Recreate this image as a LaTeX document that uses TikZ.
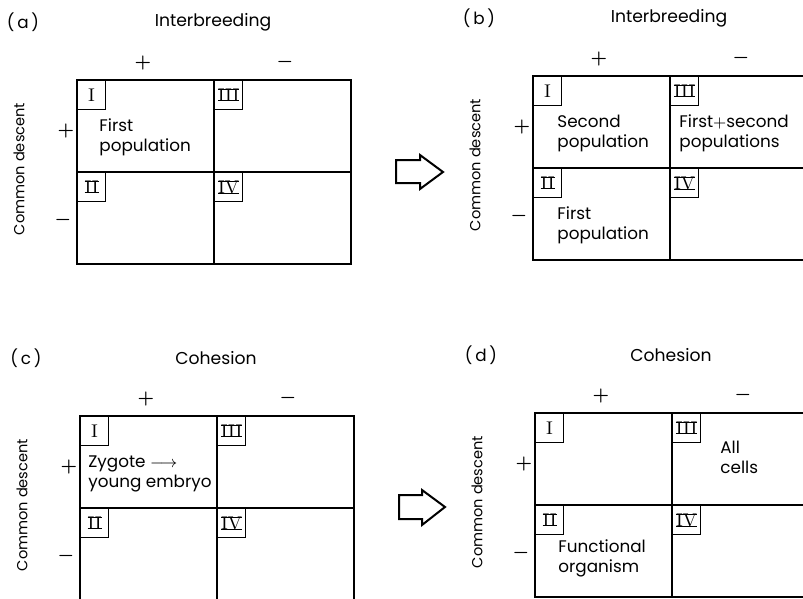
\documentclass[tikz,border=0pt]{standalone}
\usepackage{fontspec}
\setmainfont{Poppins}
\newfontfamily\numfont{Latin Modern Roman}
\usepackage{tikz}
\usetikzlibrary{positioning}

% roman numeral with bars on top and bottom
\newcommand{\barnum}[1]{{\setbox0\hbox{\numfont #1}%
  \vbox{\hrule height .5pt\kern-.5pt\copy0\kern-.5pt\hrule height .5pt}}}

\begin{document}
\begin{tikzpicture}[
  x=0.5pt, y=-0.5pt,
  every node/.style={font=\fontsize{8.4}{10}\selectfont, inner sep=0pt},
  romanbox/.style={draw, line width=0.6pt, minimum width=14pt, minimum height=14.5pt,
                   anchor=north west, font=\numfont\fontsize{9.2}{10}\selectfont},
  headtext/.style={font=\fontsize{8.6}{10}\selectfont},
  axistext/.style={rotate=90, font=\fontsize{7.3}{9}\selectfont},
  signtext/.style={font=\fontsize{9}{10}\selectfont\boldmath},
  celltext/.style={anchor=west, align=left},
  gridline/.style={line width=0.9pt},
  blockarrow/.style={line width=1pt, line join=miter}
]
\useasboundingbox (0,0) rectangle (803,599);

% one 2x2 table with its axis labels
\def\fourfold#1#2#3#4#5{%
  \begin{scope}[shift={(#2,#3)}]
    \draw[gridline] (0,0) rectangle (274,184);
    \draw[gridline] (137,0) -- (137,184);
    \draw[gridline] (0,92) -- (274,92);
    \node[romanbox] (#1-I) at (0,0) {I};
    \node[romanbox] (#1-III) at (137,0) {\barnum{III}};
    \node[romanbox] (#1-II) at (0,92) {\barnum{II}};
    \node[romanbox] (#1-IV) at (137,92) {\barnum{IV}};
    \node (#1-label) at (-54,-58) {(\,#4\,)};
    \node[headtext] (#1-head) at (136,-58) {#5};
    \node[signtext] (#1-plus) at (66,-17) {$+$};
    \node[signtext] (#1-minus) at (208,-18) {$-$};
    \node[signtext] (#1-plusl) at (-11,51) {$+$};
    \node[signtext] (#1-minusl) at (-14,140) {$-$};
    \node[axistext] (#1-axis) at (-58,89) {Common descent};
  \end{scope}
}

% panels
\fourfold{a}{77}{80}{a}{Interbreeding}
\fourfold{b}{533}{76}{b}{Interbreeding}
\fourfold{c}{80}{416}{c}{Cohesion}
\fourfold{d}{535}{413}{d}{Cohesion}

% cell contents
\node[celltext] (a-first) at (99,137) {First\\population};
\node[celltext] (b-second) at (557,133) {Second\\population};
\node[celltext] (b-both) at (679,133) {First$+$second\\populations};
\node[celltext] (b-first) at (557,225) {First\\population};
\node[celltext] (c-zygote) at (88,474) {Zygote $\longrightarrow$\\young embryo};
\node[celltext] (d-cells) at (720,457) {All\\cells};
\node[celltext] (d-organism) at (558,558) {Functional\\organism};

% block arrows
\draw[blockarrow] (396,160) -- (420,160) -- (420,155) -- (443,172) -- (420,189)
  -- (420,183) -- (396,183) -- cycle;
\draw[blockarrow] (399,495) -- (422,495) -- (422,490) -- (445,507) -- (422,525)
  -- (422,519) -- (399,519) -- cycle;
\end{tikzpicture}
\end{document}
